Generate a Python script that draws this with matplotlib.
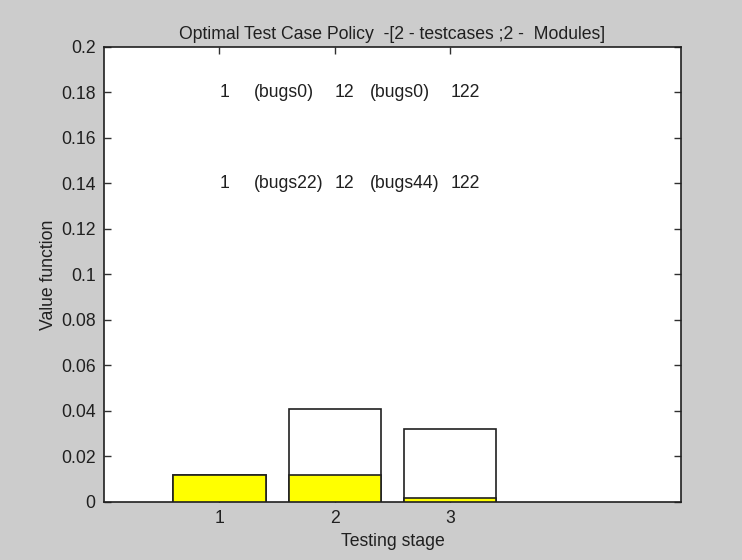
import matplotlib
matplotlib.use("Agg")
import matplotlib.pyplot as plt

# testing stages and value function per stage
stages = [1, 2, 3]
total_value = [0.012, 0.0407, 0.032]
policy_value = [0.012, 0.012, 0.0016]

# annotation rows: (y, [(x, text), ...])
row_top = [(1, "1"), (1.3, "(bugs0)"), (2, "12"), (2.3, "(bugs0)"), (3, "122")]
row_mid = [(1, "1"), (1.3, "(bugs22)"), (2, "12"), (2.3, "(bugs44)"), (3, "122")]
row_y = [0.18, 0.14]

yticks = [0, 0.02, 0.04, 0.06, 0.08, 0.1, 0.12, 0.14, 0.16, 0.18, 0.2]
ytick_labels = ["0", "0.02", "0.04", "0.06", "0.08", "0.1", "0.12", "0.14", "0.16", "0.18", "0.2"]

plt.rcParams['font.family'] = ['Liberation Sans', 'DejaVu Sans']
fs = 12.7

fig = plt.figure(figsize=(7.42, 5.6), dpi=100, facecolor='#cccccc')
ax = fig.add_axes([0.140, 0.1036, 0.778, 0.8125])
ax.set_facecolor('white')

ax.bar(stages, total_value, width=0.8, color='white', edgecolor='#202020', linewidth=1.2, zorder=2)
ax.bar(stages, policy_value, width=0.8, color='#ffff00', edgecolor='#202020', linewidth=1.2, zorder=3)

for y, row in zip(row_y, [row_top, row_mid]):
    for x, s in row:
        ax.text(x, y, s, ha='left', va='center', fontsize=fs, color='#202020')

ax.set_xlim(0, 5)
ax.set_ylim(0, 0.2)
ax.set_xticks(stages)
ax.set_xticklabels([str(s) for s in stages])
ax.set_yticks(yticks)
ax.set_yticklabels(ytick_labels)
ax.tick_params(direction='in', top=True, right=True, length=5, width=1,
               labelsize=fs, colors='#303030', labelcolor='#202020', pad=6)
for sp in ax.spines.values():
    sp.set_color('#202020')
    sp.set_linewidth(1.2)

ax.set_title('Optimal Test Case Policy  -[2 - testcases ;2 -  Modules]', fontsize=fs, color='#202020', pad=6)
ax.set_xlabel('Testing stage', fontsize=fs, color='#202020', labelpad=4)
ax.set_ylabel('Value function', fontsize=fs, color='#202020', labelpad=3)

fig.savefig('out.png', dpi=100, facecolor=fig.get_facecolor())
